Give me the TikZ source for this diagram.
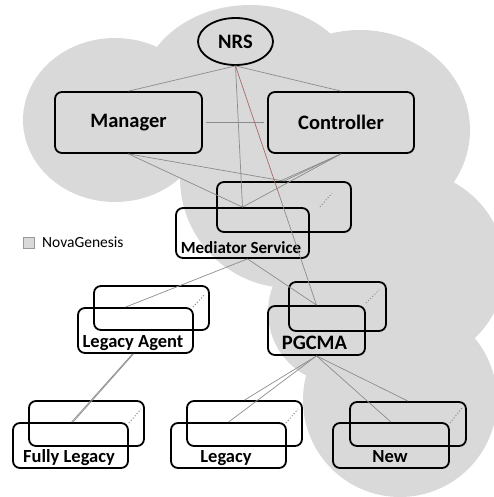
\documentclass[tikz,border=0pt]{standalone}
\usepackage{fontspec}
\setmainfont{Carlito}
\usetikzlibrary{shapes.geometric,calc}
\definecolor{cloudgray}{HTML}{D9D9D9}
\definecolor{linkgray}{HTML}{8C8C8C}
\definecolor{linkred}{HTML}{A86A6A}
\begin{document}
\begin{tikzpicture}[x=1pt,y=-1pt,
  box/.style={draw=black,line width=1.8pt,rounded corners=7pt,inner sep=0pt},
  lnk/.style={draw=linkgray,line width=0.7pt},
  dts/.style={draw=linkgray,line width=1pt,dotted},
  lbl/.style={font=\bfseries\fontsize{18.5}{18.5}\selectfont,anchor=base,inner sep=0pt},
  big/.style={font=\bfseries\fontsize{20.5}{20.5}\selectfont}]
\useasboundingbox (0,0) rectangle (493,497);
% cloud
\begin{scope}[fill=cloudgray]
\fill (115,120) ellipse [x radius=92pt, y radius=82pt];
\fill (250,95) ellipse [x radius=110pt, y radius=90pt];
\fill (360,130) ellipse [x radius=110pt, y radius=100pt];
\fill (405,268) ellipse [x radius=100pt, y radius=98pt];
\fill (400,400) circle [radius=97pt];
\fill (290,178) circle [radius=110pt];
\fill (340,312) circle [radius=72pt];
\end{scope}
% legend
\node[draw=gray!80,fill=cloudgray,line width=0.8pt,minimum size=11pt,inner sep=0pt] (legsq) at (29,243) {};
\node[font=\fontsize{15.5}{15.5}\selectfont,anchor=base west,inner sep=0pt] (legtx) at (42,247) {NovaGenesis};
% top nodes
\node[draw,ellipse,line width=1.8pt,minimum width=75pt,minimum height=47pt,inner sep=0pt,big] (nrs) at (235.5,41.5) {NRS};
\node[box,minimum width=147pt,minimum height=61pt,big] (man) at (128.5,122.5) {Manager};
\node[box,minimum width=146pt,minimum height=61pt,big] (con) at (341,122.5) {Controller};
% mediator
\node[box,minimum width=134pt,minimum height=50pt] (medb) at (284,207) {};
\node[box,minimum width=133pt,minimum height=50pt] (medf) at (242.5,233) {};
\node[lbl,font=\bfseries\fontsize{17}{17}\selectfont] (medt) at (241,253) {Mediator Service};
\coordinate (medd1) at (320,207); \coordinate (medd2) at (332,193);
\draw[dts] (medd1) -- (medd2);
% legacy agent
\node[box,minimum width=115pt,minimum height=44pt] (lagb) at (151.5,308) {};
\node[box,minimum width=115pt,minimum height=45pt] (lagf) at (135.5,330.5) {};
\node[lbl] (lagt) at (133,347) {Legacy Agent};
\coordinate (lagd1) at (193,307); \coordinate (lagd2) at (205,294);
\draw[dts] (lagd1) -- (lagd2);
% pgcma
\node[box,minimum width=97pt,minimum height=49pt] (pgb) at (337.5,306.5) {};
\node[box,minimum width=97pt,minimum height=49pt] (pgf) at (316.5,330.5) {};
\node[big,anchor=base,inner sep=0pt] (pgt) at (314.5,349) {PGCMA};
\coordinate (pgd1) at (366,303); \coordinate (pgd2) at (379,290);
\draw[dts] (pgd1) -- (pgd2);
% fully legacy
\node[box,minimum width=115pt,minimum height=45pt] (flb) at (86.5,423.5) {};
\node[box,minimum width=115pt,minimum height=45pt] (flf) at (70.5,445.5) {};
\node[lbl] (flt) at (69,462) {Fully Legacy};
\coordinate (fld1) at (129,423); \coordinate (fld2) at (141,409);
\draw[dts] (fld1) -- (fld2);
% legacy
\node[box,minimum width=115pt,minimum height=45pt] (lgb) at (244.5,423.5) {};
\node[box,minimum width=115pt,minimum height=45pt] (lgf) at (228.5,445.5) {};
\node[lbl] (lgt) at (226,462) {Legacy};
\coordinate (lgd1) at (286,423); \coordinate (lgd2) at (298,409);
\draw[dts] (lgd1) -- (lgd2);
% new
\node[box,minimum width=116pt,minimum height=44pt] (nwb) at (408,424) {};
\node[box,minimum width=116pt,minimum height=45pt] (nwf) at (391,445.5) {};
\node[lbl] (nwt) at (390,462) {New};
\coordinate (nwd1) at (450,423); \coordinate (nwd2) at (462,408);
\draw[dts] (nwd1) -- (nwd2);
% links
\draw[lnk] (nrs.south) -- (man.north);
\draw[lnk] (nrs.south) -- (con.north);
\draw[lnk] (nrs.south) -- (medf.north);
\draw[lnk,shorten <=3pt,shorten >=3pt] (man.east) -- (con.west);
\draw[lnk] (man.south) -- (medf.north);
\draw[lnk] (man.south) -- (medb.north);
\draw[lnk] (con.south) -- (medf.north);
\draw[lnk] (con.south) -- (medb.north);
\draw[lnk] (con.south) -- ([xshift=-4pt]medb.north);
\coordinate (redend) at ($(nrs.south)!0.54!(pgf.north)$);
\draw[draw=linkred,line width=0.7pt] (nrs.south) -- (redend);
\draw[lnk] (redend) -- (pgf.north);
\draw[lnk] ([xshift=5pt]medf.south) -- ([xshift=-10pt]lagf.north);
\draw[lnk] ([xshift=5pt]medf.south) -- (pgf.north);
\draw[lnk] ([xshift=-3pt]lagf.south) -- ([xshift=1pt]flf.north);
\draw[lnk] ([xshift=-2pt]lagf.south) -- ([xshift=2.5pt]flf.north);
\draw[lnk] (pgf.south) -- (lgb.north);
\draw[lnk] (pgf.south) -- (lgf.north);
\draw[lnk] (pgf.south) -- (nwf.north);
\draw[lnk] (pgf.south) -- (nwb.north);
\end{tikzpicture}
\end{document}
